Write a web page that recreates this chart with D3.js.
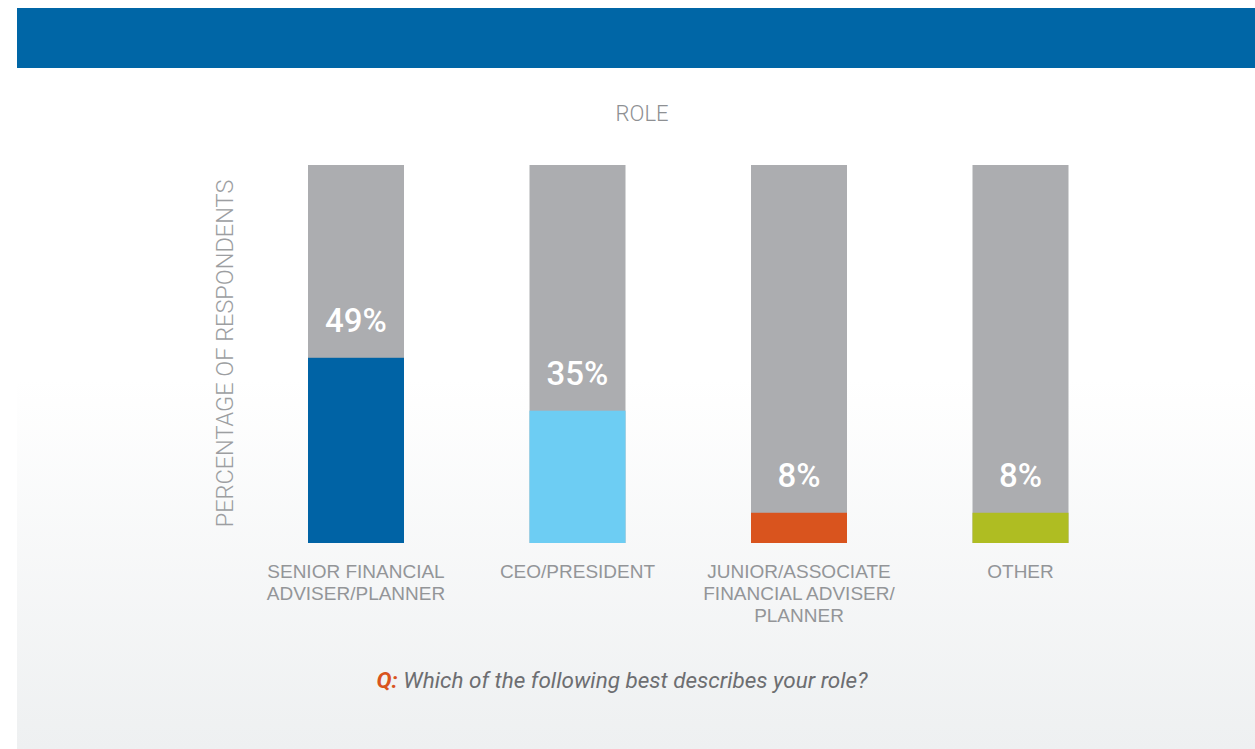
<!DOCTYPE html>
<html>
<head>
<meta charset="utf-8">
<script src="https://cdn.jsdelivr.net/npm/d3@7"></script>
<style>
  html, body { margin: 0; padding: 0; background: #ffffff; }
  svg { display: block; }
</style>
</head>
<body>
<script>
// Survey: which role best describes the respondent
const categories = ["SENIOR FINANCIAL ADVISER/PLANNER", "CEO/PRESIDENT", "JUNIOR/ASSOCIATE FINANCIAL ADVISER/PLANNER", "OTHER"];
const categoryLines = [
  ["SENIOR FINANCIAL", "ADVISER/PLANNER"],
  ["CEO/PRESIDENT"],
  ["JUNIOR/ASSOCIATE", "FINANCIAL ADVISER/", "PLANNER"],
  ["OTHER"]
];
const values = [49, 35, 8, 8];
const barColors = ["#0063a5", "#6dcdf3", "#d9541e", "#afbd22"];
const valueLabels = ["49%", "35%", "8%", "8%"];
const chartTitle = "ROLE";
const axisTitle = "PERCENTAGE OF RESPONDENTS";
const questionPrefix = "Q:";
const questionText = "Which of the following best describes your role?";

const W = 1255, H = 749;
const svg = d3.select("body").append("svg").attr("width", W).attr("height", H);

// soft panel background fading to light grey at the bottom
const defs = svg.append("defs");
const grad = defs.append("linearGradient").attr("id", "panelFade")
  .attr("x1", 0).attr("y1", 0).attr("x2", 0).attr("y2", 1);
grad.append("stop").attr("offset", "0%").attr("stop-color", "#ffffff");
grad.append("stop").attr("offset", "50%").attr("stop-color", "#ffffff");
grad.append("stop").attr("offset", "100%").attr("stop-color", "#eef0f1");

svg.append("rect").attr("x", 17).attr("y", 8).attr("width", W - 17).attr("height", H - 8)
  .attr("fill", "url(#panelFade)");

// header band
svg.append("rect").attr("x", 17).attr("y", 8).attr("width", W - 17).attr("height", 60)
  .attr("fill", "#0066a6");

const x = d3.scaleBand().domain(categories).range([308, 1068.5])
  .paddingInner(0.5666).paddingOuter(0);
const y = d3.scaleLinear().domain([0, 100]).range([543, 165]);

const font = "Roboto, 'Liberation Sans', Arial, sans-serif";
const labelFont = "'Liberation Sans', Arial, sans-serif";

// chart title
svg.append("text").attr("x", 642).attr("y", 120.5)
  .attr("text-anchor", "middle").attr("font-family", font).attr("font-size", 22)
  .attr("font-weight", 300).attr("fill", "#8e9093").text(chartTitle);

// vertical axis title
svg.append("text").attr("transform", "translate(233,353.5) rotate(-90)")
  .attr("text-anchor", "middle").attr("font-family", font).attr("font-size", 23.5)
  .attr("font-weight", 300).attr("fill", "#9c9ea1").text(axisTitle);

const g = svg.append("g");
const bars = g.selectAll("g.bar").data(categories).join("g").attr("class", "bar");

// full-height grey track
bars.append("rect")
  .attr("x", d => x(d)).attr("width", x.bandwidth())
  .attr("y", y(100)).attr("height", y(0) - y(100))
  .attr("fill", "#acadb0");

// value portion
bars.append("rect")
  .attr("x", d => x(d)).attr("width", x.bandwidth())
  .attr("y", (d, i) => y(values[i])).attr("height", (d, i) => y(0) - y(values[i]))
  .attr("fill", (d, i) => barColors[i]);

// value labels
bars.append("text")
  .attr("x", d => x(d) + x.bandwidth() / 2)
  .attr("y", (d, i) => y(values[i]) - 26)
  .attr("text-anchor", "middle").attr("font-family", font).attr("font-size", 33)
  .attr("font-weight", 500).attr("fill", "#ffffff")
  .text((d, i) => valueLabels[i]);

// category labels
bars.append("text")
  .attr("text-anchor", "middle").attr("font-family", labelFont).attr("font-size", 19)
  .attr("font-weight", 400).attr("fill", "#939598")
  .each(function(d, i) {
    d3.select(this).selectAll("tspan").data(categoryLines[i]).join("tspan")
      .attr("x", x(d) + x.bandwidth() / 2)
      .attr("y", (l, j) => 578 + j * 21.8)
      .text(l => l);
  });

// question footer
const q = svg.append("text").attr("x", 622).attr("y", 688)
  .attr("text-anchor", "middle").attr("font-family", font).attr("font-size", 22.5)
  .attr("font-style", "italic");
q.append("tspan").attr("font-weight", 700).attr("fill", "#d9541e").text(questionPrefix);
q.append("tspan").attr("font-weight", 400).attr("fill", "#6d6e71").text(" " + questionText);
</script>
</body>
</html>
